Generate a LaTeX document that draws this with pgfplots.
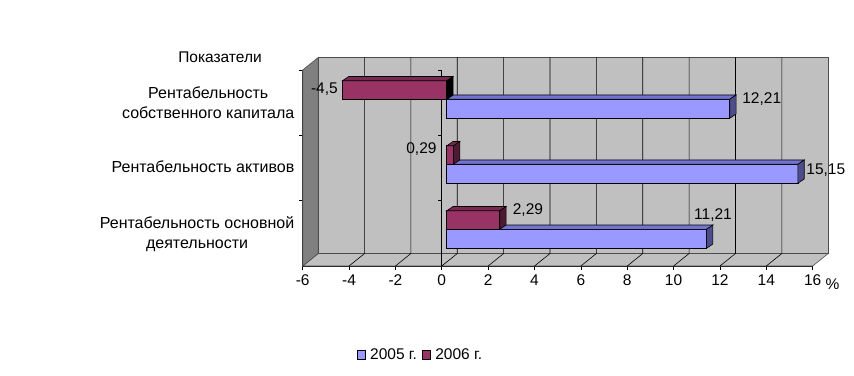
\documentclass[border=0pt]{standalone}
\usepackage{pgfplots}
\pgfplotsset{compat=1.18}
\usepackage{fontspec}
\setmainfont{Liberation Sans}
\definecolor{wall}{HTML}{C0C0C0}
\definecolor{sidewall}{HTML}{808080}
\definecolor{bfront}{HTML}{9999FF}
\definecolor{btop}{HTML}{7373D0}
\definecolor{bside}{HTML}{4D4D8C}
\definecolor{rfront}{HTML}{993366}
\definecolor{rtop}{HTML}{7A2952}
\definecolor{rside}{HTML}{4D1A33}
% #1 value, #2 y bottom, #3 y top, #4 front, #5 top, #6 side colour, #7 x of side face
\newcommand{\threedbar}[7]{%
  \pgfmathsetmacro{\xa}{#1+0.272}%
  \pgfmathsetmacro{\ya}{#2+4.3}%
  \pgfmathsetmacro{\yb}{#3+4.3}%
  \pgfmathsetmacro{\xs}{#7+0.272}%
  \edef\tmp{%
   \noexpand\addplot[barshift, fill=#4] coordinates {(0,#2) (#1,#2) (#1,#3) (0,#3)} -- cycle;
   \noexpand\addplot[barshift, fill=#5] coordinates {(0,#3) (#1,#3) (\xa,\yb) (0.272,\yb)} -- cycle;
   \noexpand\addplot[barshift, fill=#6] coordinates {(#7,#2) (\xs,\ya) (\xs,\yb) (#7,#3)} -- cycle;
  }\tmp}
\begin{document}
\begin{tikzpicture}[every node/.style={font=\fontsize{15.5}{20}\selectfont}]
\useasboundingbox (0,0) rectangle (854pt,375pt);
\begin{axis}[
  at={(302.7pt,109pt)}, anchor=south west,
  scale only axis, width=510pt, height=196pt,
  xmin=-6, xmax=16, ymin=0, ymax=196,
  clip=false,
  axis lines*=left,
  axis line style={black, line width=0.6pt},
  xtick={-6,-4,...,16},
  xticklabels={-6,-4,-2,0,2,4,6,8,10,12,14,16},
  ytick={66,131,196}, yticklabels={},
  tick align=outside, major tick length=3.5pt,
  tick style={black, line width=0.6pt},
  x tick label style={font=\fontsize{15.5}{18}\selectfont, yshift=-2pt},
  barshift/.style={draw=black, line width=0.6pt, xshift=4.9pt, forget plot},
  wallst/.style={draw=black!70, line width=0.6pt, forget plot},
  legend style={at={(0.231,-0.4515)}, anchor=center, draw=none, fill=none,
    font=\fontsize{15.5}{18}\selectfont, legend columns=2,
    /tikz/every even column/.append style={column sep=3pt}},
  legend image code/.code={\path[draw=none, fill=none] (0pt,0pt) -- (11pt,0pt);\draw[#1, line width=0.6pt] (0pt,-4.6pt) rectangle (8pt,4.6pt);},
]
% walls
\addplot[wallst, fill=wall] coordinates {(-5.331,12.5) (16.669,12.5) (16.669,208.5) (-5.331,208.5)} -- cycle;
\addplot[wallst, fill=wall] coordinates {(-6,0) (16,0) (16.669,12.5) (-5.331,12.5)} -- cycle;
\addplot[wallst, fill=sidewall] coordinates {(-6,0) (-5.331,12.5) (-5.331,208.5) (-6,196)} -- cycle;
% grid
\pgfplotsinvokeforeach{-4,-2,0,2,4,6,8,10,12,14}{
  \draw[black, line width=0.6pt] (axis cs:#1,0) -- ++(15.5pt,12.5pt) -- ++(0pt,196pt);
}
% category axis at zero
\draw[black, line width=0.6pt] (axis cs:0,0) -- (axis cs:0,196);
\pgfplotsinvokeforeach{66,131,196}{
  \draw[black, line width=0.6pt] (axis cs:0,#1) -- ++(-4pt,0pt);
}
% bars
\threedbar{12.21}{147.7}{166.7}{bfront}{btop}{bside}{12.21}
\threedbar{-4.5}{166.7}{185.2}{rfront}{rtop}{black}{0}
\threedbar{15.15}{82.7}{101.7}{bfront}{btop}{bside}{15.15}
\threedbar{0.29}{101.7}{120.2}{rfront}{rtop}{rside}{0.29}
\threedbar{11.21}{17.7}{36.7}{bfront}{btop}{bside}{11.21}
\threedbar{2.29}{36.7}{55.2}{rfront}{rtop}{rside}{2.29}
% data labels
\node[anchor=east, inner sep=0pt, xshift=0.5pt] at (axis cs:-4.5,177) {-4,5};
\node[anchor=west, inner sep=0pt, xshift=17.3pt] at (axis cs:12.21,167) {12,21};
\node[anchor=east, inner sep=0pt, xshift=-5.1pt] at (axis cs:0,117) {0,29};
\node[anchor=west, inner sep=0pt, xshift=13.2pt] at (axis cs:15.15,96) {15,15};
\node[anchor=west, inner sep=0pt, xshift=17.8pt] at (axis cs:2.29,56) {2,29};
\node[anchor=west, inner sep=0pt, xshift=-7.7pt] at (axis cs:11.21,51) {11,21};
\addlegendimage{fill=bfront, draw=black}
\addlegendentry{2005 г.}
\addlegendimage{fill=rfront, draw=black}
\addlegendentry{2006 г.}
\end{axis}
\node at (832.5pt,91pt) {\%};
\node at (220pt,318pt) {Показатели};
\begin{scope}[every node/.style={font=\fontsize{16}{20}\selectfont}]
\node[anchor=east, align=center, inner sep=0pt] at (294.5pt,272pt) {Рентабельность\\собственного капитала};
\node[anchor=east, align=center, inner sep=0pt] at (294.5pt,208pt) {Рентабельность активов};
\node[anchor=east, align=center, inner sep=0pt] at (294.5pt,141pt) {Рентабельность основной\\деятельности};
\end{scope}
\end{tikzpicture}
\end{document}
